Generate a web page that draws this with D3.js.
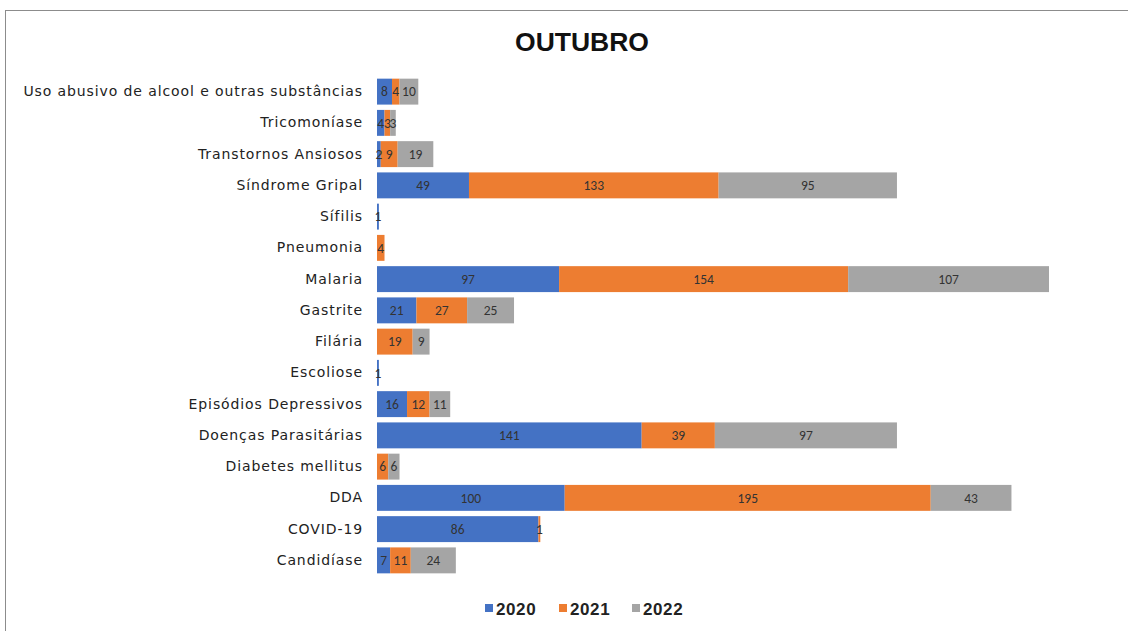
<!DOCTYPE html>
<html><head><meta charset="utf-8">
<script src="https://cdn.jsdelivr.net/npm/d3@7"></script>
<style>body{margin:0;background:#fff;}svg{display:block;}</style>
</head><body>
<svg id="c" width="1128" height="631"></svg>
<script>
const categories = ["Uso abusivo de alcool e outras substâncias","Tricomoníase","Transtornos Ansiosos","Síndrome Gripal","Sífilis","Pneumonia","Malaria","Gastrite","Filária","Escoliose","Episódios Depressivos","Doenças Parasitárias","Diabetes mellitus","DDA","COVID-19","Candidíase"];
const series2020 = [8,4,2,49,1,0,97,21,0,1,16,141,0,100,86,7];
const series2021 = [4,3,9,133,0,4,154,27,19,0,12,39,6,195,1,11];
const series2022 = [10,3,19,95,0,0,107,25,9,0,11,97,6,43,0,24];
const seriesNames = ["2020","2021","2022"];
const colors = ["#4472C4","#ED7D31","#A5A5A5"];
const title = "OUTUBRO";

const svg = d3.select("#c");
svg.append("rect").attr("x",5.5).attr("y",10.5).attr("width",1130).attr("height",640)
  .attr("fill","none").attr("stroke","#8c8c8c").attr("stroke-width",1);

svg.append("text").attr("x",582).attr("y",51).attr("text-anchor","middle")
  .attr("font-family","Liberation Sans, Arial, sans-serif").attr("font-weight","bold")
  .attr("font-size",26.5).attr("fill","#111").text(title);

const x0 = 377;
const x = d3.scaleLinear().domain([0,358]).range([x0, 1049]);
const y = d3.scaleBand().domain(categories).range([76, 576]).paddingInner(0.17).paddingOuter(0.085);

const data = categories.map((c,i)=>({cat:c, "2020":series2020[i], "2021":series2021[i], "2022":series2022[i]}));
const stacked = d3.stack().keys(seriesNames)(data);

const g = svg.append("g");
stacked.forEach((s,si)=>{
  g.selectAll(null).data(s).enter().append("rect")
    .attr("x",d=>x(d[0])).attr("y",d=>y(d.data.cat))
    .attr("width",d=>x(d[1])-x(d[0])).attr("height",y.bandwidth())
    .attr("fill",colors[si]);
});
stacked.forEach((s,si)=>{
  g.selectAll(null).data(s.filter(d=>d[1]-d[0]>0)).enter().append("text")
    .attr("x",d=>(x(d[0])+x(d[1]))/2).attr("y",d=>y(d.data.cat)+y.bandwidth()/2)
    .attr("dy","0.36em").attr("text-anchor","middle")
    .attr("font-family","Carlito, Liberation Sans, Arial, sans-serif").attr("font-size",13.5)
    .attr("fill","#333").text(d=>d[1]-d[0]);
});

const yAxis = d3.axisLeft(y).tickSize(0).tickPadding(14);
const ax = svg.append("g").attr("transform",`translate(${x0},0)`).call(yAxis);
ax.select(".domain").remove();
ax.selectAll("text").attr("font-family","DejaVu Sans, Verdana, sans-serif").attr("font-size",14)
  .attr("letter-spacing",0.9).attr("fill","#222");

const legendX = [485, 559, 632];
const lg = svg.append("g");
seriesNames.forEach((n,i)=>{
  lg.append("rect").attr("x",legendX[i]).attr("y",604).attr("width",8).attr("height",8).attr("fill",colors[i]);
  lg.append("text").attr("x",legendX[i]+11).attr("y",615)
    .attr("font-family","Liberation Sans, Arial, sans-serif").attr("font-weight","bold")
    .attr("font-size",17).attr("letter-spacing",0.6).attr("fill","#222").text(n);
});
</script>
</body></html>
